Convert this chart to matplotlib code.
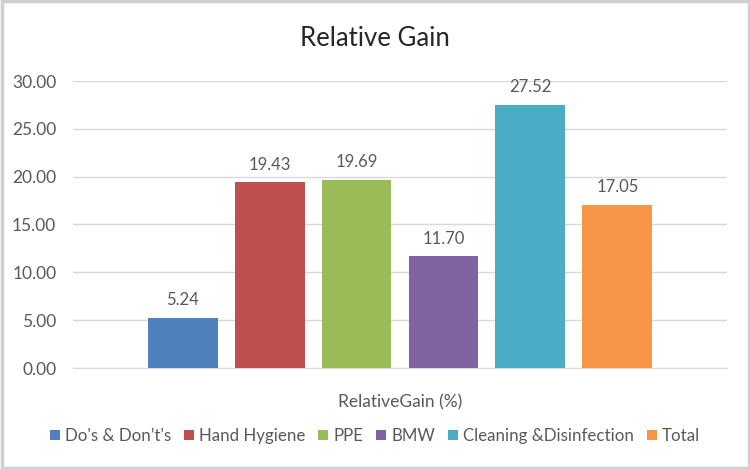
import matplotlib.pyplot as plt
from matplotlib.patches import Rectangle
import numpy as np

plt.rcParams['font.family'] = ['Lato', 'DejaVu Sans']

series = ["Do's & Don\u2019t's", "Hand Hygiene", "PPE", "BMW", "Cleaning &Disinfection", "Total"]
values = [5.24, 19.43, 19.69, 11.70, 27.52, 17.05]
colors = ["#4F81BD", "#C0504D", "#9BBB59", "#8064A2", "#4BACC6", "#F79646"]
category = "RelativeGain (%)"

txt = "#595959"
fig = plt.figure(figsize=(7.5, 4.69), dpi=100)
ax = fig.add_axes([73/750, 1 - 368/469, 654/750, 287/469])

step = 0.133
w = 0.107
for i, (name, v, c) in enumerate(zip(series, values, colors)):
    x = (i - 2.5) * step
    ax.bar(x, v, width=w, color=c, label=name, zorder=3)
    ax.text(x, v + 1.0, f"{v:.2f}", ha="center", va="bottom", fontsize=12, color=txt)

ax.set_xlim(-0.5, 0.5)
ax.set_ylim(0, 30)
ax.set_yticks(np.arange(0, 31, 5))
ax.set_yticklabels([f"{t:.2f}" for t in np.arange(0, 31, 5)], fontsize=12.5, color=txt)
ax.set_xticks([0])
ax.set_xticklabels([category], fontsize=12.5, color=txt)
ax.tick_params(axis="both", length=0, pad=12)
ax.tick_params(axis="x", pad=19)
ax.grid(axis="y", color="#d9d9d9", linewidth=1, zorder=0)
for s in ["top", "right", "left"]:
    ax.spines[s].set_visible(False)
ax.spines["bottom"].set_color("#d9d9d9")

fig.text(0.5, 1 - 38/469, "Relative Gain", ha="center", va="center", fontsize=18.5, color="#262626")

fig.legend(loc="center", bbox_to_anchor=(0.5, 1 - 436/469), ncol=6, frameon=False,
           fontsize=12.2, handlelength=0.6, handleheight=0.6, handletextpad=0.3,
           columnspacing=0.75, labelcolor=txt)

fig.patches.append(Rectangle((0.002, 0.003), 0.996, 0.994, transform=fig.transFigure,
                             fill=False, edgecolor="#d0d0d0", linewidth=2.5))

fig.savefig("out.png", dpi=100)
